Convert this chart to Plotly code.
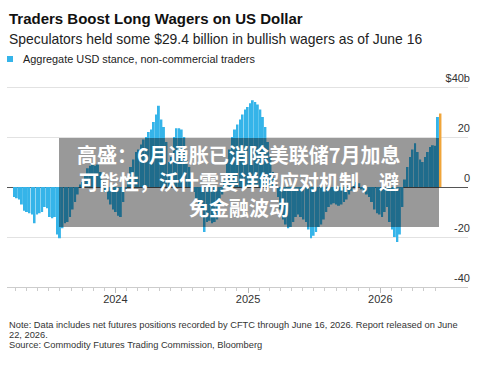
import pandas as pd
import plotly.graph_objects as go

# ---- data (billions USD, weekly, ending June 16, 2026) ----
values = [
    -4, -4.5, -5, -7, -9.5, -10, -10.5, -11, -14.5, -11,
    -10.5, -10, -8, -8.5, -12, -12.5, -12, -19, -20.5, -16.5,
    -14.5, -14, -12, -9, -6, -3, 1, 2, 5, 7.5,
    8.5, 9, 8.5, 9, 6, 2, -2, -5, -7, -9,
    -10, -11.5, -12, -6, -1, 4, 8, 11, 14, 15,
    17, 19, 20, 22, 23, 26, 29, 32.5, 27, 24,
    18, 10, 12, 20, 23.5, 23.5, 23, 20, 13, 8,
    3, -2, -6, -9, -12, -18, -14, -13.5, -14.5, -14,
    -13, -9, -3, 3, 10, 15, 20, 23, 25, 27,
    29, 31, 32, 33.5, 34.7, 34, 33, 31, 28, 24,
    18, 12, 6, 1, -4, -9, -13, -15, -16.5, -16,
    -14, -12, -11, -12, -13, -14, -17, -20.5, -19.5, -18,
    -16, -15, -13, -10, -8, -7, -6.5, -7, -7.5, -7,
    -6, -5, -3, -1.5, 1, 2, 1.5, -1, -2, -3,
    -4, -6, -9, -10.5, -11, -12, -10, -8, -14, -17,
    -20, -22, -19, -8, 3, 8, 12, 15, 17.5, 14,
    11, 10, 12, 14, 16, 16.7, 16.5, 28, 29.4,
]
dates = pd.date_range(end="2026-06-16", periods=len(values), freq="7D")

year_ticks = ["2024-01-01", "2025-01-01", "2026-01-01"]
year_labels = ["2024", "2025", "2026"]
y_ticks = [-40, -20, 0, 20, 40]
y_labels = ["-40", "-20", "0", "20", "$40b"]

title = "Traders Boost Long Wagers on US Dollar"
subtitle = "Speculators held some $29.4 billion in bullish wagers as of June 16"
legend_label = "Aggregate USD stance, non-commercial traders"
note_lines = [
    "Note: Data includes net futures positions recorded by CFTC through June 16, 2026. Report released on June",
    "22, 2026.",
    "Source: Commodity Futures Trading Commission, Bloomberg",
]
overlay_lines = [
    "高盛：6月通胀已消除美联储7月加息",
    "可能性，沃什需要详解应对机制，避",
    "免金融波动",
]

BLUE = "#35b4e9"
ORANGE = "#f0a53a"
FONT = "Liberation Sans"

colors = [BLUE] * (len(values) - 1) + [ORANGE]

# plot area in pixels (y range -40..52 at 2.5 px per unit)
L, R, T, B = 7, 468, 57, 287
W, H = 500, 366


def px_x(p):
    return (p - L) / (R - L)


def px_y(p):
    return (B - p) / (B - T)


fig = go.Figure()
fig.add_trace(go.Bar(x=dates, y=values, marker=dict(color=colors, line=dict(width=0)),
                     showlegend=False))

fig.update_layout(
    width=W, height=H,
    margin=dict(l=L, r=W - R, t=T, b=H - B, pad=0),
    paper_bgcolor="white", plot_bgcolor="white",
    bargap=0.22,
    font=dict(family=FONT, color="#333"),
    xaxis=dict(
        range=["2023-03-08", "2026-08-31"],
        tickvals=year_ticks, ticktext=year_labels,
        ticks="outside", ticklen=5, tickcolor="#bbb", tickwidth=1,
        ticklabelstandoff=-3,
        showline=True, linecolor="#ccc", linewidth=1,
        showgrid=False, zeroline=False,
        tickfont=dict(size=11, color="#333"),
        minor=dict(ticks="outside", ticklen=3, tickcolor="#ccc", dtick="M1",
                   tick0="2024-01-01", showgrid=False),
    ),
    yaxis=dict(
        side="right", range=[-40, 52],
        tickvals=y_ticks, ticktext=y_labels,
        ticklabelposition="inside", ticklabelshift=-9, ticklabelstandoff=-5,
        ticks="", showgrid=True, gridcolor="#e2e2e2", gridwidth=1,
        zeroline=True, zerolinecolor="#555", zerolinewidth=1,
        showline=False,
        tickfont=dict(size=11, color="#333"),
    ),
)

anns = [
    dict(text=f"<b>{title}</b>", x=0, y=px_y(18), xanchor="left", yanchor="middle",
         font=dict(size=15, color="#111", family=FONT)),
    dict(text=subtitle, x=0, y=px_y(39), xanchor="left", yanchor="middle",
         font=dict(size=13.9, color="#222", family=FONT)),
    dict(text=legend_label, x=px_x(21), y=px_y(59), xanchor="left", yanchor="middle",
         font=dict(size=10.9, color="#222", family=FONT)),
]
for i, line in enumerate(overlay_lines):
    anns.append(dict(text=f"<b>{line}</b>", x=px_x(239), y=px_y(154.5 + 26.5 * i),
                     xanchor="center", yanchor="middle",
                     font=dict(size=20, color="white", family="Noto Sans CJK SC")))
for i, line in enumerate(note_lines):
    anns.append(dict(text=line, x=0, y=px_y(325 + 10 * i), xanchor="left", yanchor="middle",
                     font=dict(size=9.3, color="#333", family=FONT)))
for a in anns:
    a.update(xref="paper", yref="paper", showarrow=False)
fig.update_layout(annotations=anns)

fig.update_layout(shapes=[
    dict(type="rect", xref="paper", yref="paper", x0=px_x(7), x1=px_x(13),
         y0=px_y(62), y1=px_y(56), fillcolor=BLUE, line=dict(width=0)),
    dict(type="rect", xref="paper", yref="paper", x0=px_x(59), x1=px_x(439),
         y0=px_y(227), y1=px_y(138), fillcolor="rgba(0,0,0,0.4)", line=dict(width=0),
         layer="above"),
])

fig.write_html("out.html")
